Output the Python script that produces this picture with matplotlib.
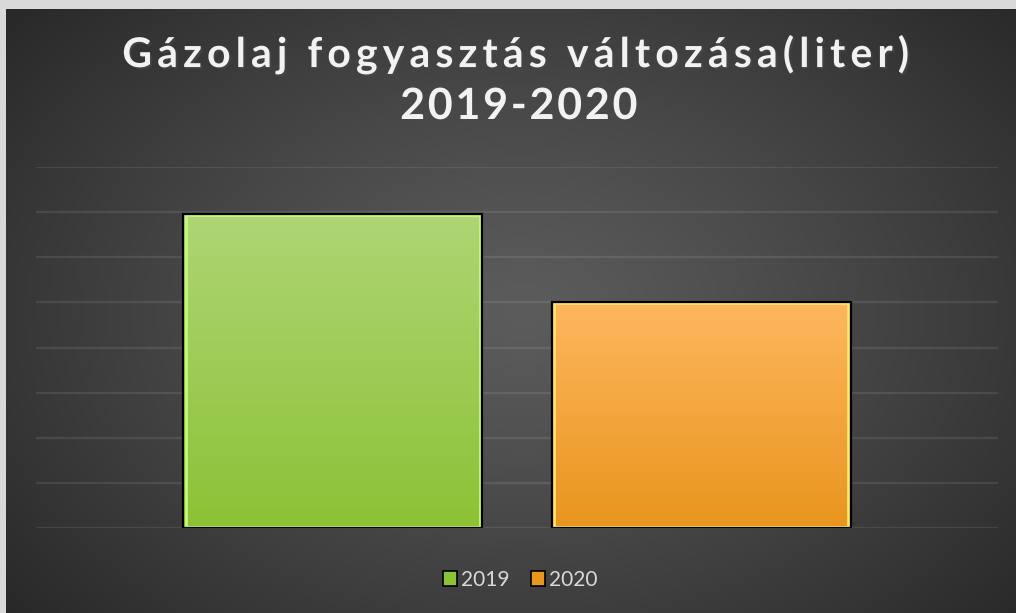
import matplotlib.pyplot as plt
import numpy as np
import matplotlib.patheffects as pe
from matplotlib.patches import Patch, Rectangle

plt.rcParams['font.family'] = ['Lato', 'DejaVu Sans']

# adatok
sorozatok = ['2019', '2020']
ertekek = [6.95, 5.0]
cim_sorok = ['Gázolaj fogyasztás változása(liter)', '2019-2020']
felso_szin = ['#add674', '#ffb65e']
also_szin = ['#8cc236', '#e8961e']
belso_szel = ['#c9f77c', '#ffe46e']

W, H = 1016, 613
fig = plt.figure(figsize=(W / 100, H / 100), dpi=100)
fig.patch.set_facecolor('#d9d9d9')

# sötét háttér radiális színátmenettel
bg = fig.add_axes([6 / W, 0, 1 - 6 / W, 1 - 9 / H])
bg.set_axis_off()
yy, xx = np.mgrid[0:300, 0:500]
d = np.sqrt(((xx - 255) / 330.0) ** 2 + ((yy - 150) / 230.0) ** 2)
d = np.clip(d, 0, 1)
lum = 0.36 - 0.20 * d ** 1.2
bg.imshow(np.dstack([lum, lum, lum]), aspect='auto', extent=[0, 1, 0, 1],
          interpolation='bicubic')
bg.set_xlim(0, 1)
bg.set_ylim(0, 1)

ax = fig.add_axes([36 / W, (H - 528) / H, (998 - 36) / W, (528 - 167) / H])
ax.patch.set_alpha(0)
ax.set_yticks(np.arange(0, 9, 1))
ax.yaxis.grid(True, color='white', alpha=0.09, lw=1.6)
ax.set_axisbelow(True)
ax.tick_params(left=False, bottom=False, labelleft=False, labelbottom=False)
for s in ax.spines.values():
    s.set_visible(False)

poz = [-0.5, 0.5]
bars = ax.bar(poz, ertekek, width=0.8125, color='none', edgecolor='black',
              lw=1.6, zorder=3)
for i, b in enumerate(bars):
    x0, w, h = b.get_x(), b.get_width(), b.get_height()
    c1 = np.array(plt.matplotlib.colors.to_rgb(felso_szin[i]))
    c2 = np.array(plt.matplotlib.colors.to_rgb(also_szin[i]))
    t = np.linspace(0, 1, 100)[:, None]
    grad = (c1 * (1 - t) + c2 * t)[:, None, :]
    im = ax.imshow(grad, aspect='auto', extent=[x0, x0 + w, 0, h],
                   zorder=2, interpolation='bilinear')
    im.set_clip_path(b)
    ax.add_patch(Rectangle((x0 + 0.007, 0.014), w - 0.014, h - 0.032,
                           fill=False, edgecolor=belso_szel[i], lw=2.0,
                           zorder=2.5))
ax.set_xlim(-1.307, 1.307)
ax.set_ylim(0, 8)

# betűköz imitálása hajszálszóközzel
def ritkit(s, n):
    return ('\u200a' * n).join(s)

arnyek = [pe.SimplePatchShadow(offset=(1.5, -1.5), alpha=0.6), pe.Normal()]
fig.text(0.511, 1 - 55 / H, ritkit(cim_sorok[0], 2), ha='center', va='center',
         fontsize=29.5, fontweight='bold', color='#f2f2f2', path_effects=arnyek)
fig.text(0.511, 1 - 106 / H, ritkit(cim_sorok[1], 1), ha='center', va='center',
         fontsize=31, fontweight='bold', color='#f2f2f2', path_effects=arnyek)

handles = [Patch(facecolor=also_szin[i], edgecolor='black', lw=1.2)
           for i in range(2)]
leg = fig.legend(handles, sorozatok, loc='center', bbox_to_anchor=(0.512, 1 - 580 / H),
                 ncol=2, frameon=False, fontsize=15, labelcolor='#d9d9d9',
                 handlelength=0.7, handleheight=0.7, handletextpad=0.2,
                 columnspacing=1.0)

fig.savefig('out.png', dpi=100, facecolor=fig.get_facecolor())
